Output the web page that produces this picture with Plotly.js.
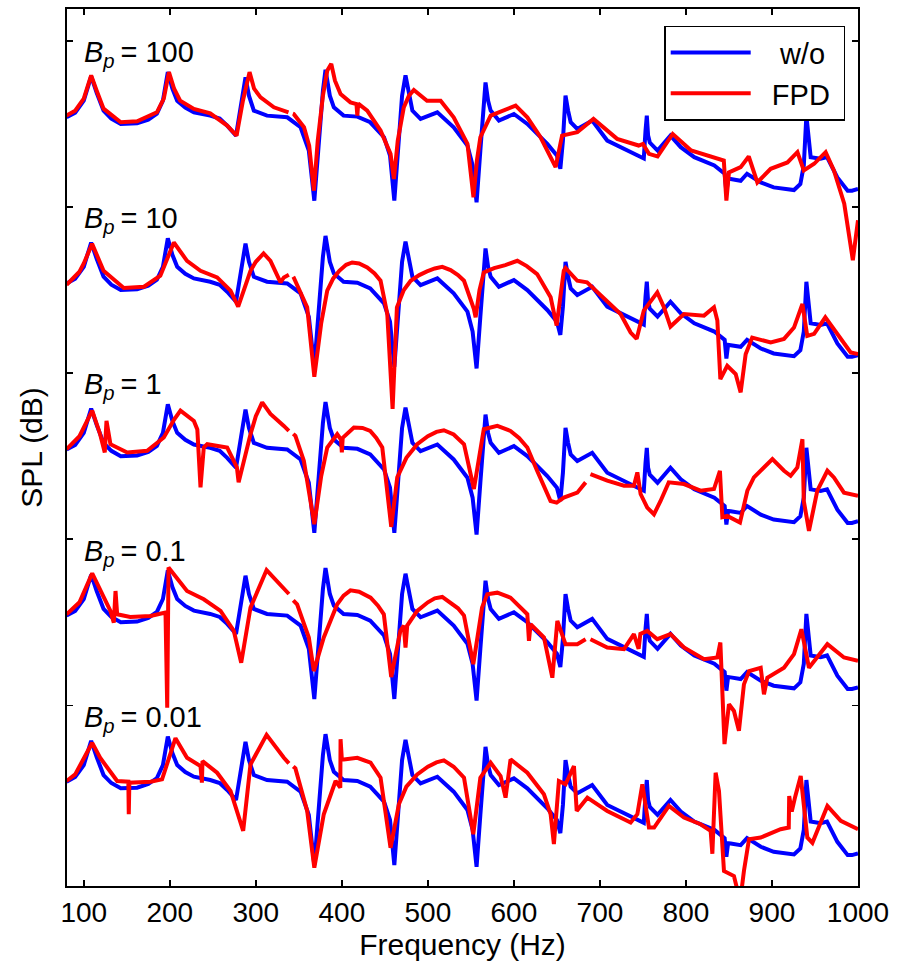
<!DOCTYPE html>
<html>
<head>
<meta charset="utf-8">
<script src="https://cdn.plot.ly/plotly-3.0.1.min.js"></script>
<style>html,body{margin:0;padding:0;background:#fff;}#chart{width:900px;height:972px;}</style>
</head>
<body>
<div id="chart"></div>
<script>
// Frequency axis ticks
const xTicks = [100,200,300,400,500,600,700,800,900,1000];

// Panel labels (B_p values), top to bottom
const bpLabels = ['100','10','1','0.1','0.01'];
// Vertical offset of each panel (axis units)
const panelOffsets = [167, 117, 67, 17, -33];

// Each series: [frequency (Hz), SPL (dB)]; null = pen gap
// w/o (identical in every panel)
const woPts = [[80,60],[90,61.4],[100,65],[108.6,72.3],[115,67.4],[123,62],[132,59.6],[143,58],[162,58.2],[175,59.3],[185,61.1],[192,65],[197.7,73.6],[203,68.6],[208.6,65],[218,62.9],[228,61.5],[247,60.5],[258,59.6],[266.7,57.5],[277,54.5],[283,65],[288,72],[292,66.5],[297.7,62],[313,60.5],[336.5,60],[352,57],[361.6,50],[368,34.9],[373,53],[378,68],[381,74.3],[386,66.5],[390.7,63],[402,60.5],[418,60.2],[433,58.5],[449,54],[456,48.5],[461,34.9],[466,53],[470,66.5],[474,72.6],[478,66.5],[482,62],[491.5,59.5],[500,60.5],[511,61.5],[530,57],[546,51.5],[552,45.5],[556.6,34.4],[561,50],[565,66.5],[567,70.5],[570,65],[573,62],[582.6,59],[600,61],[615.6,58],[638.8,52],[650,48.5],[654,44.5],[657,53],[660,66.5],[663,62],[666,58.5],[673.7,56.5],[683,57.8],[691,59],[708.5,53],[724,51],[747,48.2],[751,47.6],[753,56],[754.5,60.5],[756,54.5],[758,52.4],[767,50],[782,54.5],[794,51],[809.7,48],[833,45.5],[845,43],[847,37.4],[849,41.5],[852,41.4],[863.6,40.9],[871,43],[887,40.4],[902,38.9],[925.6,38.1],[933,39.9],[937,45.5],[940,60.5],[942,56],[945,48],[956.6,47.5],[964,48],[976,41.9],[988,37.9],[993,37.9],[1000,38.4]];

// FPD, B_p = 100
const fpd100Pts = [[80,60.5],[90,62],[100,65.6],[108.6,72.6],[115,68],[123,62.6],[143,58.5],[162,58.8],[185,61.5],[193,65.6],[199,73.6],[205,68.6],[212,65],[228,62.5],[247,61.2],[266.7,57.5],[277.6,54.5],[285,65],[292.7,73.6],[298,68.6],[305.5,66],[321,63],[338,61.5],[340.5,null],[343,61.1],[344,61],[356,57],[362,51.5],[367.5,37.9],[372,53],[378,66.5],[383,74],[387.7,76.1],[392,71],[398.5,67],[410,64.5],[417,64],[418,60.5],[419,64.1],[429.5,62],[445,56],[456.6,49],[460.5,41.4],[465,53],[472,63],[478,66.5],[483.7,68.2],[499,65],[514.8,65],[530,60],[546,52],[553,35.9],[557,47],[561,54],[573,60.5],[586.5,62],[602,63.5],[615.6,60],[631,54],[648.5,45],[652,50],[656,54.5],[673.7,55.5],[683,57.5],[692.5,59.5],[720,53.5],[745,51.5],[750,52],[757,49],[767,48.2],[784.6,55],[806,50],[844,47],[847,34.9],[850,43.4],[863.6,45],[873,48.2],[883,40.4],[898.5,44.5],[918,46.4],[929.6,49.5],[937,44],[949,46],[962.4,49.5],[972,44],[984,34],[994,17],[1000,29]];

// FPD, B_p = 10
const fpd10Pts = [[80,59.6],[95,63.5],[100,66],[109.7,71.9],[123,63.8],[146.5,58.6],[170,59],[189,62.3],[204.7,72.3],[220,66.8],[235.7,63.8],[255,61.8],[270.6,57.8],[279.5,53],[293.8,63.8],[300,66.5],[309,69],[317,66.8],[328.7,60.3],[332.6,61.8],[338.4,62.6],[341,null],[343.5,62],[344,61.8],[359.7,52.8],[368,31.9],[376,48],[383,57.8],[390,61.5],[397,63.8],[405,65.6],[412,66.3],[420,66],[429.5,64.8],[438,63],[445,60.8],[452.8,50.8],[459,22.2],[464,52.8],[472,58],[480,60.8],[490,62.5],[499,63.6],[508,64.5],[516.7,65],[526.4,64],[535,62.5],[542,60.8],[553.5,52.3],[555.5,49.8],[560,58],[565,63.3],[577,64.6],[590,65.5],[604,66.8],[615,65.2],[627,62.8],[642.7,55.8],[649.7,47.3],[658,63.8],[660,64.6],[673.7,60.8],[685,60.3],[704.7,55.3],[724,50.8],[735.7,45.2],[742.7,43.3],[751,51.8],[766.7,57.3],[774.4,52.8],[782,47],[797.7,50.8],[821,50.3],[832.6,52.8],[836.5,48.8],[840,31.2],[848,35.2],[857.8,32.7],[863.6,27.2],[869.4,38.7],[877,43.7],[898.5,42.2],[914,43.3],[925.6,46.7],[935.4,53.8],[941,44.2],[949,44.8],[962,49.8],[976,44.8],[991.5,39.2],[1000,38.7]];

// FPD, B_p = 1
const fpd1Pts = [[80,60.1],[95,64],[109.8,71.7],[119,64.6],[124.4,59.1],[126.4,68.6],[131,61.6],[150.5,59.1],[173.7,59.6],[193,63.6],[205,69],[212.4,71.7],[228,68.6],[232,66],[235.7,48.6],[239.5,60.6],[243.5,61.6],[266.7,60.6],[278,54.6],[280,50.1],[293.8,64.6],[300,70],[307.4,74.2],[317,70.7],[332.6,67.1],[338.4,65.6],[341,null],[343.5,64.7],[346,64.1],[355.8,56.6],[368,37.5],[376,52],[383,60.6],[394.6,64.6],[399,63],[400,59.1],[401,63.5],[414,66.6],[424,66.5],[433,65.6],[440,63.5],[447,60.6],[457.4,36.7],[464.4,51.6],[475,57.5],[487.6,61.6],[500,64],[510,65.3],[518.6,65.8],[530,64.5],[542,61.6],[553.5,48.1],[561,59.6],[565,66.1],[580.7,67.1],[596,65.6],[606,63.5],[615.6,60.6],[627,53.6],[642.6,44.5],[649.7,44],[658,45.5],[673.7,47],[683.4,50.1],[686,null],[689,52.6],[708.5,50.6],[728,49.1],[739.5,49.1],[743.5,53.1],[747.3,46.6],[755,42.5],[762.8,40.5],[770.5,44.5],[780,50.1],[797.7,49.6],[817,47.6],[832.6,48.1],[839.5,53.6],[842.3,39.6],[848,40],[862.8,38],[871.4,47.6],[879,51.6],[900.5,57.1],[914,53.6],[921.7,52.1],[929.5,54.6],[935.4,63.1],[937,44.5],[943,35.5],[952.7,47.6],[964.4,53.6],[972,51.6],[983.7,47],[1000,46.1]];

// FPD, B_p = 0.1
const fpd01Pts = [[80,60.4],[95,64],[109.8,72.7],[123,65.4],[131,61.4],[134.9,57.9],[136.9,67.4],[138.8,60.4],[154,59.6],[177.5,59.9],[195,60.9],[197,32.3],[198.5,74.5],[220,67.4],[239.5,64.9],[259,61.4],[274.4,55.4],[283,45.8],[293.8,62.4],[312.5,73.7],[332.6,68.4],[338.5,66.5],[341,null],[343.5,64.6],[348,63.4],[361.6,53.4],[367.4,43.3],[379,53.4],[394.6,63.4],[402,66],[410,67.6],[420,67.2],[433.4,65.4],[442,63],[448.8,60.4],[457.4,41.5],[468,55.4],[472,57],[474,50.4],[476,57],[487.6,61.4],[500,64],[508,65.2],[516.7,65.6],[526,64],[535,62.2],[542,60],[552.8,45.4],[563,62.4],[569,66.4],[580.7,66.9],[596,65.4],[615.6,60.4],[617.5,52.4],[619.4,57.4],[635,53.4],[644.7,41.3],[650.5,58.4],[660,51.4],[673.7,51.4],[683.4,52.9],[686,null],[689,52.9],[708.5,50.4],[728,49.9],[739.5,54.4],[745,50],[747,54.5],[755,55.4],[766.7,52.9],[782,54.4],[797.7,50.4],[821,46.9],[836.5,47.4],[840,51.9],[844.8,21.3],[850,33.3],[855.8,31.3],[861.6,25.3],[867.4,39.3],[873.3,43.3],[886.9,44.3],[890.7,36.3],[894.6,41.3],[914,44.3],[925.6,48.4],[934.2,55.9],[943,44.3],[964.4,51.4],[983.7,47.4],[1000,46.4]];

// FPD, B_p = 0.01
const fpd001Pts = [[80,60.2],[90,62.2],[109.8,71.7],[119,67.2],[138.8,60.2],[151.8,60],[152.3,50.2],[153,59.7],[177.5,60],[191,60.7],[206.6,73.1],[220,67.2],[235.7,64.7],[237.3,59.7],[238,66.2],[255,62.7],[270.6,57.2],[285.3,45.2],[293.8,65.2],[312.5,74.1],[332.6,67.2],[338.5,65.5],[341,null],[343.5,64.6],[346,64],[359.7,51.2],[368,34.1],[379,50.2],[392.7,60.2],[398.2,58.2],[398.5,72.8],[400,66.7],[402.3,66.7],[418,67.2],[433.4,65.7],[445,61.2],[456.6,40.1],[466.3,53.2],[475,58.5],[487.6,62.2],[500,64.5],[510,65.8],[518.6,66.4],[530,64.5],[542,61.2],[552.8,44.2],[561,61.2],[573,65.7],[584.5,61.7],[590.3,55.2],[596.1,66.7],[615.6,62.7],[634.9,56.2],[642.7,50.2],[646.5,41.2],[652.3,60.2],[660,59.2],[669.8,64.7],[673,51.2],[685.4,55.2],[708.5,51.2],[735.7,47.7],[743.5,50.2],[749.3,59.2],[757,46.2],[763,46.2],[780.2,52.7],[797.7,49.2],[817,47.2],[828.7,45.2],[830.7,38.3],[834.5,62.7],[838.4,57.2],[844.2,33.1],[855.8,31.6],[863,24],[867.4,33.1],[873.3,42.7],[886.9,43.2],[910,45.7],[919.5,46.2],[920,55.7],[923,51],[927,55.5],[933.4,61.7],[941.1,43.2],[947,41.6],[964.4,52.7],[980,48.2],[1000,45.7]];

const fpdSeries = [fpd100Pts, fpd10Pts, fpd1Pts, fpd01Pts, fpd001Pts];

const BLUE = '#0000ff', RED = '#ff0000';
const FONT = 'Liberation Sans, Arial, Helvetica, sans-serif';
const NB = '\u00a0';

const xs = pts => pts.map(p => p[0]);
const ys = (pts, off) => pts.map(p => p[1] === null ? null : p[1] + off);

const traces = [];
const annotations = [];
panelOffsets.forEach((off, k) => {
  traces.push({
    x: xs(woPts), y: ys(woPts, off),
    type: 'scatter', mode: 'lines', name: NB + NB + NB + 'w/o',
    line: {color: BLUE, width: 4}, showlegend: k === 0
  });
});
panelOffsets.forEach((off, k) => {
  traces.push({
    x: xs(fpdSeries[k]), y: ys(fpdSeries[k], off),
    type: 'scatter', mode: 'lines', name: NB + NB + 'FPD' + NB,
    line: {color: RED, width: 4}, showlegend: k === 0
  });
  annotations.push({
    xref: 'x', yref: 'y', x: 98, y: 250 - 50 * k + 2.0,
    xanchor: 'left', yanchor: 'top', showarrow: false,
    text: '<i>B</i><sub><i>p</i></sub>\u2009= ' + bpLabels[k],
    font: {family: FONT, size: 29, color: '#000'}
  });
});

const layout = {
  width: 900, height: 972,
  margin: {l: 67, r: 42, t: 9, b: 86},
  paper_bgcolor: '#fff', plot_bgcolor: '#fff',
  font: {family: FONT, size: 28, color: '#000'},
  showlegend: true,
  legend: {
    x: 0.755, y: 0.981, xanchor: 'left', yanchor: 'top',
    bgcolor: '#fff', bordercolor: '#000', borderwidth: 1.5,
    font: {family: FONT, size: 29, color: '#000'},
    itemwidth: 80, traceorder: 'normal'
  },
  xaxis: {
    range: [80.5, 1000], tickvals: xTicks, ticktext: xTicks.map(String),
    ticks: 'inside', ticklen: 6, tickwidth: 1.5, tickcolor: '#000',
    showline: true, linecolor: '#000', linewidth: 2, mirror: 'ticks',
    showgrid: false, zeroline: false,
    tickfont: {family: FONT, size: 28, color: '#000'},
    title: {text: 'Frequency (Hz)', font: {family: FONT, size: 30, color: '#000'}, standoff: 6}
  },
  yaxis: {
    range: [-4.4, 259.6], tickvals: [50, 100, 150, 200, 250], showticklabels: false,
    ticks: 'inside', ticklen: 6, tickwidth: 1.5, tickcolor: '#000',
    showline: true, linecolor: '#000', linewidth: 2, mirror: 'ticks',
    showgrid: false, zeroline: false,
    title: {text: 'SPL (dB)', font: {family: FONT, size: 30, color: '#000'}, standoff: 14}
  },
  annotations: annotations
};

Plotly.newPlot('chart', traces, layout, {displayModeBar: false, staticPlot: true});
</script>
</body>
</html>
